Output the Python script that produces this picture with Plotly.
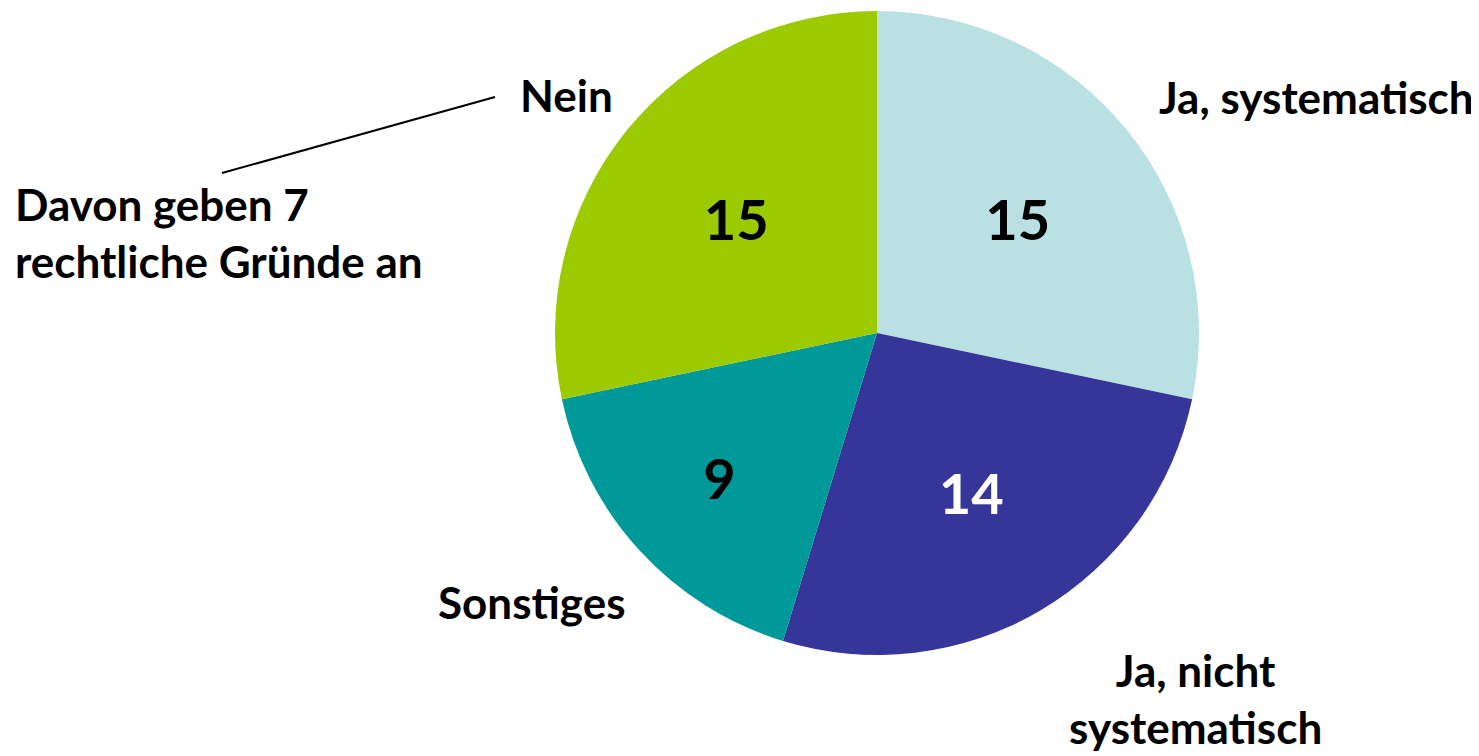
import plotly.graph_objects as go

labels = ["Ja, systematisch", "Ja, nicht systematisch", "Sonstiges", "Nein"]
values = [15, 14, 9, 15]
colors = ["#b9e0e3", "#35359a", "#009999", "#9bca00"]
text_colors = ["#000000", "#ffffff", "#000000", "#000000"]
note_text = "Davon geben 7<br>rechtliche Gründe an"

FONT = "Lato"
W, H = 1479, 756
OFF = 8  # page body margin
cx, cy, r = 877 - OFF, 333 - OFF, 322


def px(x):
    return (x - OFF) / W


def py(y):
    return 1 - (y - OFF) / H


fig = go.Figure(go.Pie(
    labels=labels, values=values, sort=False, direction="clockwise", rotation=0,
    marker=dict(colors=colors, line=dict(width=0)),
    textinfo="value", textposition="inside",
    insidetextfont=dict(family=FONT, size=56, color=text_colors, weight="bold"),
    insidetextorientation="horizontal",
    domain=dict(x=[(cx - r) / W, (cx + r) / W], y=[1 - (cy + r) / H, 1 - (cy - r) / H]),
    showlegend=False, hoverinfo="label+value",
))

lab_font = dict(family=FONT, size=44, color="#000000", weight="bold")
annotations = [
    dict(text="Ja, systematisch", x=px(1476), y=py(97), xanchor="right", yanchor="middle"),
    dict(text="Ja, nicht<br>systematisch", x=px(1195), y=py(698), xanchor="center", yanchor="middle"),
    dict(text="Sonstiges", x=px(532), y=py(602), xanchor="center", yanchor="middle"),
    dict(text="Nein", x=px(566), y=py(95), xanchor="center", yanchor="middle"),
    dict(text=note_text, x=px(13), y=py(232), xanchor="left", yanchor="middle", align="left"),
]
for a in annotations:
    a.update(xref="paper", yref="paper", showarrow=False, font=lab_font)
    if "align" not in a:
        a["align"] = "center"

fig.update_layout(
    width=W, height=H, margin=dict(l=0, r=0, t=0, b=0),
    paper_bgcolor="white", plot_bgcolor="white",
    annotations=annotations,
    shapes=[dict(type="line", xref="paper", yref="paper",
                 x0=px(222), y0=py(173), x1=px(495), y1=py(97),
                 line=dict(color="black", width=2))],
)
fig.write_html("out.html")
